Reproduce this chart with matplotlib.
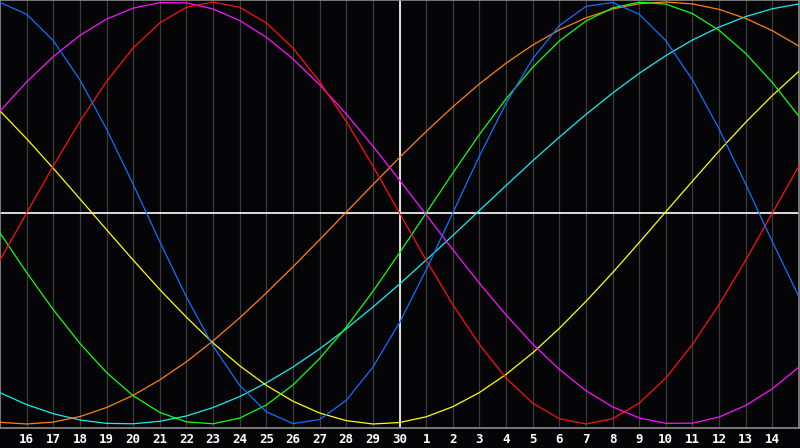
import matplotlib
matplotlib.use("Agg")
import matplotlib.pyplot as plt

# day labels under the chart (day 15 sits at the left edge, 15 of next month at the right)
day_labels = ["16", "17", "18", "19", "20", "21", "22", "23", "24", "25", "26", "27", "28", "29", "30",
              "1", "2", "3", "4", "5", "6", "7", "8", "9", "10", "11", "12", "13", "14"]
days = list(range(31))  # 0 = day 15 ... 30 = next day 15

# cycle values in percent, one per day
red = [-22.3, 0, 22.3, 43.4, 62.3, 78.2, 90.1, 97.5, 100, 97.5, 90.1, 78.2, 62.3, 43.4, 22.3, 0,
       -22.3, -43.4, -62.3, -78.2, -90.1, -97.5, -100, -97.5, -90.1, -78.2, -62.3, -43.4, -22.3, 0, 22.3]
blue = [99.8, 94.2, 81.7, 63.1, 39.8, 13.6, -13.6, -39.8, -63.1, -81.7, -94.2, -99.8, -97.9, -88.8,
        -73.1, -52.0, -27.0, 0, 27.0, 52.0, 73.1, 88.8, 97.9, 99.8, 94.2, 81.7, 63.1, 39.8, 13.6, -13.6, -39.8]
magenta = [48.3, 62.1, 74.1, 84.2, 91.9, 97.1, 99.7, 99.6, 96.7, 91.2, 83.3, 73.0, 60.8, 46.9, 31.7,
           15.6, -0.8, -17.3, -33.3, -48.3, -62.1, -74.1, -84.2, -91.9, -97.1, -99.7, -99.6, -96.7,
           -91.2, -83.3, -73.0]
green = [-9.5, -28.2, -45.8, -61.8, -75.6, -86.6, -94.5, -99.0, -99.9, -97.2, -91.0, -81.5, -69.0,
         -54.1, -37.2, -18.9, 0, 18.9, 37.2, 54.1, 69.0, 81.5, 91.0, 97.2, 99.9, 99.0, 94.5, 86.6,
         75.6, 61.8, 45.8]
orange = [-99.2, -100, -99.1, -96.5, -92.2, -86.4, -79.1, -70.5, -60.6, -49.7, -37.9, -25.5, -12.7,
          0.4, 13.4, 26.3, 38.6, 50.3, 61.2, 71.0, 79.6, 86.8, 92.5, 96.7, 99.2, 100, 99.1, 96.5,
          92.2, 86.4, 79.1]
cyan = [-85.2, -90.8, -95.1, -98.1, -99.7, -99.9, -98.7, -96.2, -92.2, -87.0, -80.5, -73.0, -64.4,
        -54.9, -44.6, -33.7, -22.3, -10.7, 1.2, 13.0, 24.7, 35.9, 46.7, 56.8, 66.2, 74.6, 82.0,
        88.1, 93.1, 96.8, 99.1]
yellow = [48.4, 35.2, 21.2, 6.7, -7.9, -22.3, -36.3, -49.4, -61.6, -72.4, -81.7, -89.2, -94.8, -98.4,
          -100.0, -99.3, -96.6, -91.8, -85.1, -76.5, -66.3, -54.7, -41.9, -28.3, -14.0, 0.6, 15.1,
          29.4, 43.0, 55.7, 67.2]

series = [
    (cyan, "#10f0f0"),
    (orange, "#ff8010"),
    (yellow, "#ffff00"),
    (green, "#10ff10"),
    (magenta, "#ff10ff"),
    (red, "#ff1010"),
    (blue, "#1070ff"),
]

fig = plt.figure(figsize=(8, 4.48), dpi=100, facecolor="#050508")
ax = fig.add_axes([0, 20 / 448, 799 / 800, 428 / 448])
ax.set_facecolor("#050508")

for t in days[1:-1]:
    ax.axvline(t, color="#3c3c3c", lw=0.9, zorder=1)
ax.axvline(15, color="white", lw=1.2, zorder=2)
ax.axhline(0, color="white", lw=1.2, zorder=2)

for vals, col in series:
    ax.plot(days, vals, color=col, lw=0.9, zorder=3)

ax.set_xlim(0, 30)
ax.set_ylim(-101.9, 100.95)
ax.set_yticks([])
ax.set_xticks(days[1:-1])
ax.set_xticklabels(day_labels, color="white", fontsize=9, fontweight="bold", family="DejaVu Sans Mono")
ax.tick_params(axis="x", length=0, pad=3.5)
for s in ax.spines.values():
    s.set_color("#8c8c8c")
    s.set_linewidth(1.2)

fig.savefig("out.png", dpi=100, facecolor=fig.get_facecolor())
